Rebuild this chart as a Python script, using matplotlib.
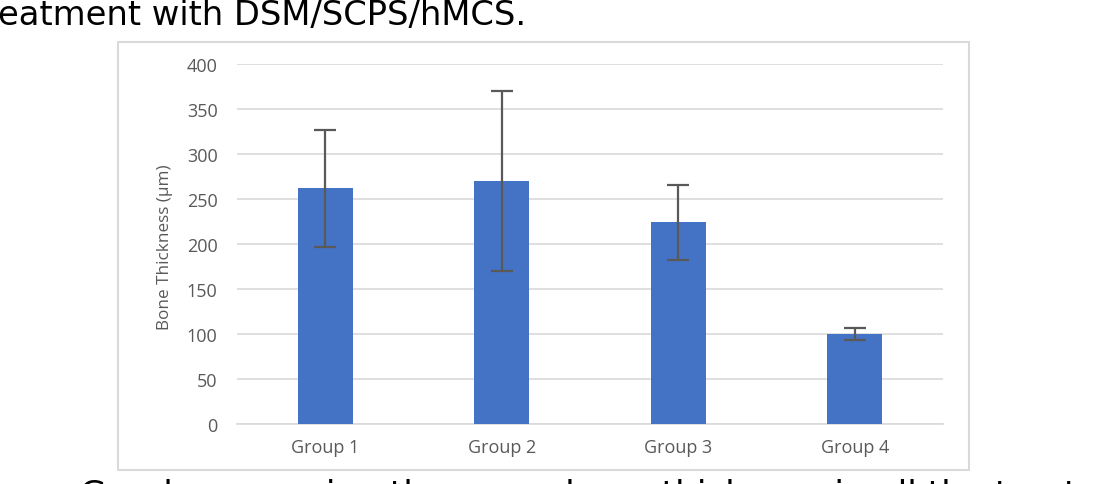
import numpy as np
import matplotlib.pyplot as plt
from matplotlib.patches import Rectangle

groups = ['Group 1', 'Group 2', 'Group 3', 'Group 4']
thickness = [262, 270, 224, 100]
thickness_err = [65, 100, 42, 7]
y_ticks = [0, 50, 100, 150, 200, 250, 300, 350, 400]

W, H = 1107, 485
fig = plt.figure(figsize=(W / 100, H / 100), dpi=100)

# slide text around the chart (both lines are cut by the screenshot)
fig.text(-0.002, 1 - 25 / H, 'eatment with DSM/SCPS/hMCS.', fontsize=24.3,
         family='DejaVu Sans', va='baseline', ha='left', color='black')
fig.text(80 / W, 1 - 505 / H, 'Graph comparing the mean bone thickness in all the treated',
         fontsize=24.7, family='DejaVu Sans', va='baseline', ha='left', color='black')

# chart frame
fig.patches.append(Rectangle((118 / W, 1 - 471 / H), (969 - 118) / W, (471 - 43) / H,
                             transform=fig.transFigure, fill=False,
                             edgecolor='#d9d9d9', linewidth=1.5))

ax = fig.add_axes([237 / W, 1 - 425 / H, (943 - 237) / W, (425 - 65) / H])
x = np.arange(len(groups))
ax.bar(x, thickness, width=0.31, color='#4472C4', zorder=3)
ax.errorbar(x, thickness, yerr=thickness_err, fmt='none', ecolor='#595959',
            elinewidth=1.6, capsize=8, capthick=1.6, zorder=4)

ax.set_xlim(-0.5, 3.5)
ax.set_ylim(0, 400)
ax.set_yticks(y_ticks)
ax.set_xticks(x)
ax.set_xticklabels(groups)
ax.grid(axis='y', color='#d9d9d9', linewidth=1.2, zorder=0)
for s in ['top', 'right', 'left']:
    ax.spines[s].set_visible(False)
ax.spines['bottom'].set_color('#d9d9d9')
ax.spines['bottom'].set_linewidth(1.2)
ax.tick_params(axis='both', length=0, colors='#595959', labelsize=13)
ax.tick_params(axis='y', pad=14)
ax.tick_params(axis='x', pad=10)
for lab in ax.get_xticklabels() + ax.get_yticklabels():
    lab.set_family('Open Sans')

fig.text(165 / W, 1 - 247 / H, 'Bone Thickness (μm)', rotation=90, fontsize=12.3,
         family='Open Sans', color='#595959', va='center', ha='center')

fig.savefig('out.png', dpi=100)
